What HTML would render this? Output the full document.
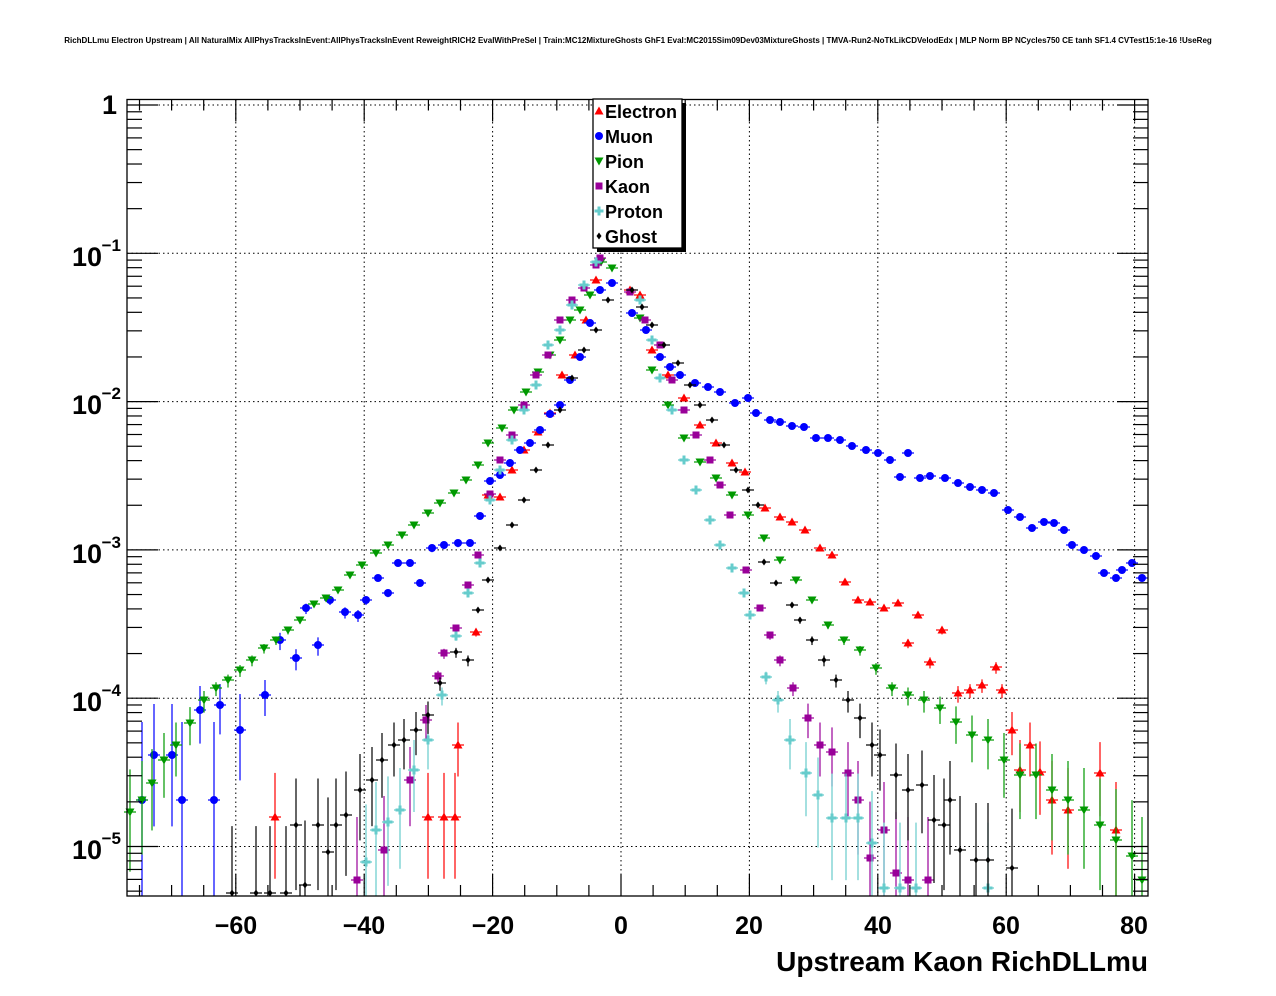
<!DOCTYPE html>
<html><head><meta charset="utf-8"><style>
html,body{margin:0;padding:0;background:#fff;}
svg{display:block;font-family:"Liberation Sans",sans-serif;}
</style></head><body>
<svg id="s" width="1276" height="996" xmlns="http://www.w3.org/2000/svg">
<rect width="1276" height="996" fill="#fff"/>
<text x="638" y="43" font-size="8" font-weight="bold" text-anchor="middle">RichDLLmu Electron Upstream | All NaturalMix AllPhysTracksInEvent:AllPhysTracksInEvent ReweightRICH2 EvalWithPreSel | Train:MC12MixtureGhosts GhF1 Eval:MC2015Sim09Dev03MixtureGhosts | TMVA-Run2-NoTkLikCDVelodEdx | MLP Norm BP NCycles750 CE tanh SF1.4 CVTest15:1e-16 !UseReg</text>
<g id="grid"></g>
<g id="data"></g>
<rect x="127" y="99.5" width="1021" height="796.5" fill="none" stroke="#000" stroke-width="1.3"/>
<g id="ticks"></g>
<g font-weight="bold" font-size="25" text-anchor="middle">
<text x="236" y="934">−60</text><text x="364" y="934">−40</text><text x="493" y="934">−20</text>
<text x="621" y="934">0</text><text x="749" y="934">20</text><text x="878" y="934">40</text>
<text x="1006" y="934">60</text><text x="1134" y="934">80</text>
</g>
<text x="1148" y="971" font-size="28" font-weight="bold" text-anchor="end">Upstream Kaon RichDLLmu</text>
<g font-weight="bold" font-size="27" text-anchor="end">
<text x="117" y="114">1</text>
<text x="102" y="266">10</text><text x="121" y="251" font-size="17">−1</text>
<text x="102" y="414">10</text><text x="121" y="399" font-size="17">−2</text>
<text x="102" y="563">10</text><text x="121" y="548" font-size="17">−3</text>
<text x="102" y="711">10</text><text x="121" y="696" font-size="17">−4</text>
<text x="102" y="859">10</text><text x="121" y="844" font-size="17">−5</text>
</g>
<rect x="597" y="103" width="89" height="149" fill="#000"/>
<rect x="593" y="99" width="89" height="149" fill="#fff" stroke="#000" stroke-width="1.3"/>
<g font-size="18" font-weight="bold">
<text x="605" y="118">Electron</text><text x="605" y="143">Muon</text><text x="605" y="168">Pion</text>
<text x="605" y="193">Kaon</text><text x="605" y="218">Proton</text><text x="605" y="243">Ghost</text>
</g>
<g id="leg"></g>
</svg>
<script>
const NS="http://www.w3.org/2000/svg";
function el(p,t,a){const e=document.createElementNS(NS,t);for(const k in a)e.setAttribute(k,a[k]);p.appendChild(e);return e;}
const G=document.getElementById('grid'),T=document.getElementById('ticks'),D=document.getElementById('data'),L=document.getElementById('leg');
const X0=127,X1=1148,Y0=99.5,Y1=896;
function xp(v){return 621+v*6.42;}
function yp(l){return 105-l*148.3;}
for(let v=-60;v<=80;v+=20){el(G,'line',{x1:xp(v),x2:xp(v),y1:Y0,y2:Y1,stroke:'#000','stroke-dasharray':'1.5,3','stroke-width':1});}
for(let d=0;d>=-5;d--){el(G,'line',{x1:X0,x2:X1,y1:yp(d),y2:yp(d),stroke:'#000','stroke-dasharray':'1.5,3','stroke-width':1});}
for(let v=-75;v<=80;v+=5){const x=xp(v);const maj=v%20==0;const len=maj?22:11;
 el(T,'line',{x1:x,x2:x,y1:Y1,y2:Y1-len,stroke:'#000','stroke-width':1.2});
 el(T,'line',{x1:x,x2:x,y1:Y0,y2:Y0+len,stroke:'#000','stroke-width':1.2});}
for(let d=0;d>=-6;d--){for(let m=1;m<10;m++){const y=yp(d+Math.log10(m));if(y<Y0-0.5||y>Y1)continue;const len=m==1?31:15;
 el(T,'line',{x1:X0,x2:X0+len,y1:y,y2:y,stroke:'#000','stroke-width':1.2});
 el(T,'line',{x1:X1,x2:X1-len,y1:y,y2:y,stroke:'#000','stroke-width':1.2});}}
function marker(p,type,col,x,y){
 if(type=='tu')el(p,'polygon',{points:`${x},${y-4.5} ${x-4.5},${y+3.5} ${x+4.5},${y+3.5}`,fill:col});
 else if(type=='td')el(p,'polygon',{points:`${x},${y+4.5} ${x-4.5},${y-3.5} ${x+4.5},${y-3.5}`,fill:col});
 else if(type=='c')el(p,'circle',{cx:x,cy:y,r:4,fill:col});
 else if(type=='s')el(p,'rect',{x:x-3.5,y:y-3.5,width:7,height:7,fill:col});
 else if(type=='p'){el(p,'rect',{x:x-4.5,y:y-1.5,width:9,height:3,fill:col});el(p,'rect',{x:x-1.5,y:y-4.5,width:3,height:9,fill:col});}
 else if(type=='d')el(p,'polygon',{points:`${x},${y-3.5} ${x-2.5},${y} ${x},${y+3.5} ${x+2.5},${y}`,fill:col});
}
const S=[
['tu','#ff0000',[[275,817],[428,817],[444,817],[455,817],[458,745],[476,632],[488,495],[500,497],[512,470],[524,450],[538,432],[550,413],[562,375],[575,355],[586,320],[596,280],[630,290],[640,295],[652,350],[668,375],[684,398],[700,425],[716,443],[732,463],[745,472],[765,508],[780,517],[792,522],[805,530],[820,548],[832,555],[845,582],[858,600],[870,602],[884,608],[898,603],[908,643],[918,615],[930,662],[942,630],[958,693],[970,690],[982,685],[996,667],[1002,690],[1012,730],[1020,770],[1030,745],[1040,772],[1052,800],[1068,810],[1100,773],[1116,830]]],
['c','#0000ff',[[142,800],[154,755],[172,755],[182,800],[200,710],[214,800],[220,705],[240,730],[265,695],[280,640],[296,658],[306,608],[318,645],[330,600],[345,612],[358,615],[366,600],[378,578],[388,593],[398,563],[410,563],[420,583],[432,548],[444,545],[458,543],[470,543],[480,516],[490,481],[500,475],[510,463],[520,450],[530,443],[540,430],[550,414],[560,405],[570,380],[580,357],[590,323],[600,290],[612,283],[632,313],[646,330],[660,357],[670,367],[680,375],[695,383],[708,387],[720,392],[735,403],[748,398],[756,413],[770,420],[780,422],[792,426],[804,427],[816,438],[828,438],[840,440],[852,446],[866,450],[878,453],[890,460],[900,477],[908,453],[920,478],[930,476],[945,478],[958,483],[970,487],[982,490],[994,493],[1008,510],[1020,517],[1032,528],[1044,522],[1054,523],[1064,530],[1072,545],[1084,550],[1096,556],[1104,573],[1116,578],[1122,570],[1132,563],[1142,578]]],
['td','#009900',[[130,812],[142,800],[152,783],[164,760],[176,745],[190,723],[204,700],[216,688],[228,680],[240,670],[252,660],[264,648],[276,640],[288,630],[300,620],[314,604],[326,598],[338,590],[350,575],[362,565],[376,553],[388,545],[402,535],[414,525],[428,513],[440,503],[454,493],[466,480],[478,465],[488,443],[502,428],[514,410],[526,392],[538,372],[550,355],[560,340],[570,320],[580,310],[590,295],[601,262],[612,268],[640,318],[652,370],[668,405],[684,438],[700,462],[716,478],[732,495],[748,515],[764,538],[780,560],[796,580],[812,600],[828,625],[844,640],[860,650],[876,668],[892,688],[908,695],[924,700],[940,708],[956,722],[972,735],[988,740],[1004,760],[1020,775],[1036,775],[1052,790],[1068,800],[1084,810],[1100,825],[1116,840],[1132,856],[1142,880]]],
['s','#990099',[[357,880],[384,850],[410,780],[426,720],[438,676],[444,653],[456,628],[468,585],[478,555],[490,494],[500,460],[512,435],[524,405],[536,375],[548,355],[560,320],[572,300],[584,288],[596,265],[600,258],[630,292],[645,320],[660,345],[672,380],[684,410],[696,435],[710,460],[720,485],[730,515],[746,570],[760,608],[770,635],[780,660],[793,688],[808,718],[820,745],[832,752],[848,773],[858,800],[870,858],[884,830],[896,873],[908,880],[928,880]]],
['p','#66cccc',[[366,862],[376,830],[388,822],[400,810],[414,770],[428,740],[442,695],[456,636],[468,593],[480,563],[490,500],[500,470],[512,440],[524,410],[536,385],[548,345],[560,330],[572,305],[584,285],[596,262],[640,300],[652,340],[660,378],[672,410],[684,460],[696,490],[710,520],[720,545],[732,568],[744,593],[750,615],[766,677],[778,700],[790,740],[806,773],[818,795],[832,818],[846,818],[858,818],[872,843],[884,888],[900,888],[916,888],[988,888]]],
['d','#000000',[[232,893],[256,893],[270,893],[286,893],[305,885],[296,825],[318,825],[328,852],[336,825],[346,815],[360,790],[372,780],[382,760],[394,745],[404,740],[416,730],[428,715],[440,683],[456,652],[468,660],[478,610],[488,580],[500,548],[512,525],[524,500],[536,470],[548,445],[560,410],[572,378],[584,350],[596,330],[608,300],[632,290],[642,307],[652,325],[664,345],[678,363],[690,385],[700,405],[712,420],[724,445],[736,470],[748,490],[758,505],[764,562],[776,583],[792,605],[800,620],[812,640],[824,660],[836,680],[848,700],[860,718],[872,745],[880,755],[896,775],[908,790],[922,785],[934,820],[944,825],[950,800],[960,850],[976,860],[988,860],[1012,868]]]
];
for(const [t,c,pts] of S){const g=el(D,'g',{});
 for(const [x,y] of pts){let e=y>690?(y-690)*0.3+6:(y>560?(y-560)*0.045:1.5); if(t=='c'&&x<470)e*=2;
  el(g,'line',{x1:x-6,x2:x+6,y1:y,y2:y,stroke:c,'stroke-width':1.2});
  el(g,'line',{x1:x,x2:x,y1:Math.max(Y0,y-e),y2:Math.min(Y1,y+e*1.4),stroke:c,'stroke-width':1.2});
  marker(g,t,c,x,y);}}
const ly=[111,136,161,186,211,236];
S.forEach((s,i)=>marker(L,s[0],s[1],599,ly[i]));
</script>
</body></html>
